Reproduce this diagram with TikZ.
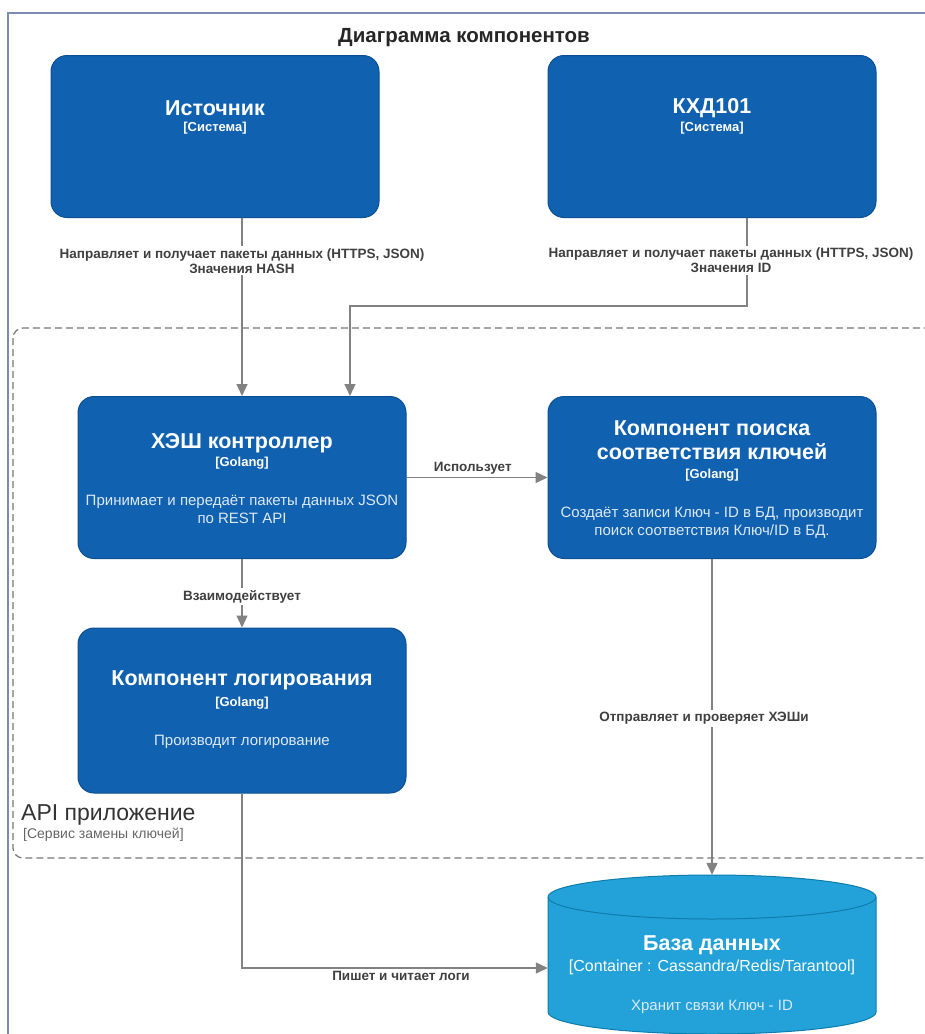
\documentclass[tikz,border=0pt]{standalone}
\usepackage{fontspec}
\setmainfont{Liberation Sans}
\usetikzlibrary{arrows.meta,calc}
\definecolor{boxblue}{HTML}{1061B0}
\definecolor{boxedge}{HTML}{0D5091}
\definecolor{dbblue}{HTML}{23A2D9}
\definecolor{dbedge}{HTML}{0E7DAD}
\definecolor{conn}{HTML}{828282}
\definecolor{lbl}{HTML}{404040}
\definecolor{desc}{HTML}{DCE9F7}
\definecolor{framec}{HTML}{7B8DB5}
\definecolor{bnd}{HTML}{777777}
\begin{document}
\begin{tikzpicture}[x=1pt,y=-1pt,
 comp/.style={draw=boxedge, fill=boxblue, rounded corners=16pt, line width=1pt, minimum width=328pt, minimum height=162pt, inner sep=0pt},
 ttl/.style={text=white, font=\fontsize{21.5}{24}\selectfont\bfseries, align=center, inner sep=0pt},
 tagt/.style={text=white, font=\fontsize{13}{16}\selectfont\bfseries, inner sep=0pt},
 dsc/.style={text=desc, font=\fontsize{15}{18}\selectfont, align=center, inner sep=0pt},
 rel/.style={draw=conn, line width=1.3pt, -{Triangle[length=12pt,width=11pt]}},
 lab/.style={text=lbl, font=\fontsize{13.5}{15}\selectfont\bfseries, align=center, fill=white, inner sep=2pt},
]
\useasboundingbox (0,0) rectangle (925,1034);
\clip (0,0) rectangle (925,1034);
\fill[white] (0,0) rectangle (925,1034);
% outer frame
\draw[framec, line width=1.2pt] (8,1040) -- (8,13) -- (926,13);
% boundary
\draw[bnd, line width=1.2pt, dash pattern=on 7pt off 4pt, rounded corners=10pt] (13,328) rectangle (960,858);
\node[font=\fontsize{20.5}{24}\selectfont\bfseries, text=black!85] (title) at (464,38) {Диаграмма компонентов};
% components
\node[comp] (src) at (215,136.5) {};
\node[comp] (kxd) at (712,136.5) {};
\node[comp] (hash) at (242,477.5) {};
\node[comp] (search) at (712,477.5) {};
\node[comp, minimum height=165pt] (log) at (242,710.5) {};
% database cylinder
\node[minimum width=328pt, minimum height=186pt, inner sep=0pt] (db) at (712,968) {};
\draw[draw=dbedge, fill=dbblue, line width=1pt] (548,897) -- (548,1012) arc[start angle=180, end angle=0, x radius=164, y radius=22] -- (876,897) arc[start angle=0, end angle=-180, x radius=164, y radius=22] -- cycle;
\draw[draw=dbedge, line width=1pt] (548,897) arc[start angle=180, end angle=0, x radius=164, y radius=22];
% texts
\node[ttl] (srct) at (215,108) {Источник};
\node[tagt] (srcg) at (215,128) {[Система]};
\node[ttl] (kxdt) at (712,108) {КХД101};
\node[tagt] (kxdg) at (712,128) {[Система]};
\node[ttl] (hasht) at (242,443) {ХЭШ контроллер};
\node[tagt] (hashg) at (242,463) {[Golang]};
\node[dsc] (hashd) at (242,509) {Принимает и передаёт пакеты данных JSON\\по REST API};
\node[ttl] (searcht) at (712,440) {Компонент поиска\\соответствия ключей};
\node[tagt] (searchg) at (712,475) {[Golang]};
\node[dsc] (searchd) at (712,523) {Создаёт записи Ключ - ID в БД, производит\\поиск соответствия Ключ/ID в БД.};
\node[ttl] (logt) at (242,680) {Компонент логирования};
\node[tagt] (logg) at (242,703) {[Golang]};
\node[dsc] (logd) at (242,742) {Производит логирование};
\node[ttl] (dbt) at (712,945) {База данных};
\node[tagt, font=\fontsize{16}{18}\selectfont] (dbg) at (712,967) {[Container : Cassandra/Redis/Tarantool]};
\node[dsc] (dbd) at (712,1007) {Хранит связи Ключ - ID};
% boundary label
\node[anchor=west, text=black!80, font=\fontsize{23}{26}\selectfont, inner sep=0pt] (api) at (21,815) {API приложение};
\node[anchor=west, text=black!60, font=\fontsize{14}{16}\selectfont, inner sep=0pt] (apit) at (23,835) {[Сервис замены ключей]};
% relations
\draw[rel] ([xshift=27pt]src.south) -- node[lab, pos=0.24] {Направляет и получает пакеты данных (HTTPS, JSON)\\Значения HASH} (hash.north);
\draw[rel] ([xshift=35pt]kxd.south) -- node[lab, pos=0.48, xshift=-16pt] {Направляет и получает пакеты данных (HTTPS, JSON)\\Значения ID} ++(0,88) -| ([xshift=108pt]hash.north);
\draw[rel] (hash.east) -- node[lab, fill=none, above=1pt, pos=0.47] {Использует} (search.west);
\draw[rel] (hash.south) -- node[lab, pos=0.55] {Взаимодействует} (log.north);
\draw[rel] (search.south) -- node[lab, pos=0.505, xshift=-8pt] {Отправляет и проверяет ХЭШи} (db.north);
\draw[rel] (log.south) |- node[lab, fill=none, pos=0.76, below=1pt] {Пишет и читает логи} (db.west);
\end{tikzpicture}
\end{document}
